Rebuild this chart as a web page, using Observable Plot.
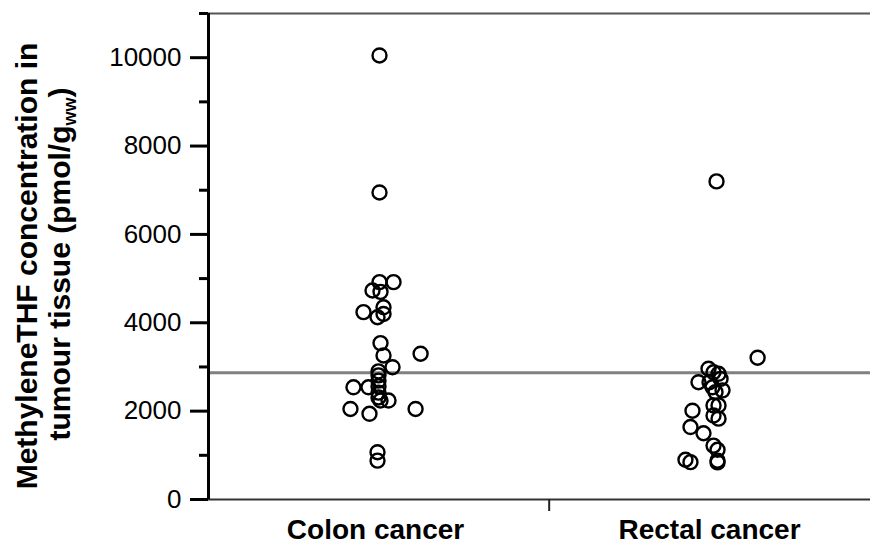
<!DOCTYPE html>
<html>
<head>
<meta charset="utf-8">
<script src="https://cdn.jsdelivr.net/npm/d3@7"></script>
<script src="https://cdn.jsdelivr.net/npm/@observablehq/plot@0.6"></script>
<style>
  html, body { margin: 0; padding: 0; background: #fff; }
  #chart svg { display: block; }
</style>
</head>
<body>
<div id="chart"></div>
<script>
const categories = ["Colon cancer", "Rectal cancer"];

const colonValues = [10050, 6950, 4920, 4920, 4730, 4700, 4240, 4350, 4125, 4200, 3540, 3260, 3300, 2995,
  2900, 2810, 2690, 2560, 2420, 2310, 2540, 2540, 2240, 2240, 2050, 2050, 1940, 1070, 880];
const colonJitter = [0.012, 0.012, 0.012, 0.054, -0.009, 0.015, -0.036, 0.024, 0.006, 0.024, 0.015, 0.024, 0.135, 0.051,
  0.009, 0.009, 0.009, 0.009, 0.009, 0.009, -0.066, -0.021, 0.015, 0.039, -0.075, 0.12, -0.018, 0.006, 0.006];

const rectalValues = [7200, 3210, 2960, 2880, 2845, 2655, 2655, 2730, 2540, 2470, 2430, 2010, 2130, 2130,
  1900, 1830, 1640, 1500, 1220, 1125, 900, 845, 880, 840];
const rectalJitter = [0.021, 0.144, -0.003, 0.012, 0.027, -0.033, 0, 0.033, 0.009, 0.039, 0.018, -0.051, 0.012, 0.027,
  0.012, 0.027, -0.057, -0.018, 0.012, 0.024, -0.072, -0.057, 0.024, 0.024];

const majorTicks = [0, 2000, 4000, 6000, 8000, 10000];
const minorTicks = [1000, 3000, 5000, 7000, 9000, 11000];
const referenceValue = 2870;
const yMax = 11000;

const points = [
  ...colonValues.map((v, i) => ({group: categories[0], x: 1 + colonJitter[i], y: v})),
  ...rectalValues.map((v, i) => ({group: categories[1], x: 2 + rectalJitter[i], y: v}))
];

const font = "'Liberation Sans', Arial, Helvetica, sans-serif";

const chart = Plot.plot({
  width: 870,
  height: 545,
  marginLeft: 208,
  marginRight: 0,
  marginTop: 13,
  marginBottom: 46,
  style: {fontFamily: font, background: "#fff", color: "#000"},
  x: {domain: [0.5, 2.482]},
  y: {domain: [0, yMax]},
  marks: [
    Plot.ruleY([0], {stroke: "#333", strokeWidth: 2}),
    Plot.ruleY([yMax], {stroke: "#555", strokeWidth: 2}),
    Plot.ruleY([referenceValue], {stroke: "#808080", strokeWidth: 3}),
    Plot.axisY({ticks: majorTicks, tickSize: 18, tickPadding: 9, tickFormat: d => String(d),
      fontSize: 26, strokeWidth: 3, label: null}),
    Plot.axisY({ticks: minorTicks, tickSize: 9, tickFormat: () => "", strokeWidth: 3, label: null}),
    Plot.ruleX([0.5], {stroke: "#000", strokeWidth: 3}),
    Plot.axisX({ticks: [1, 2], tickSize: 0, tickPadding: 20, tickFormat: d => categories[d - 1],
      fontSize: 28, fontWeight: "bold", label: null}),
    Plot.axisX({ticks: [1.52], tickSize: 12, tickFormat: () => "", strokeWidth: 2, stroke: "#222", label: null}),
    Plot.dot(points, {x: "x", y: "y", r: 7, stroke: "#000", strokeWidth: 2.4, fill: "none"})
  ]
});

document.getElementById("chart").appendChild(chart);

// Y axis title (two lines, rotated, with subscript)
const svg = d3.select(chart);
const title = svg.append("g")
  .attr("font-family", font)
  .attr("font-weight", "bold")
  .attr("font-size", 30)
  .attr("fill", "#000")
  .attr("text-anchor", "middle");

title.append("text")
  .attr("transform", "translate(37,266) rotate(-90)")
  .text("MethyleneTHF concentration in");

const t2 = title.append("text")
  .attr("transform", "translate(70,264) rotate(-90)");
t2.append("tspan").text("tumour tissue (pmol/g");
t2.append("tspan").attr("font-size", 18).attr("dy", 6).text("ww");
t2.append("tspan").attr("dy", -6).text(")");
</script>
</body>
</html>
